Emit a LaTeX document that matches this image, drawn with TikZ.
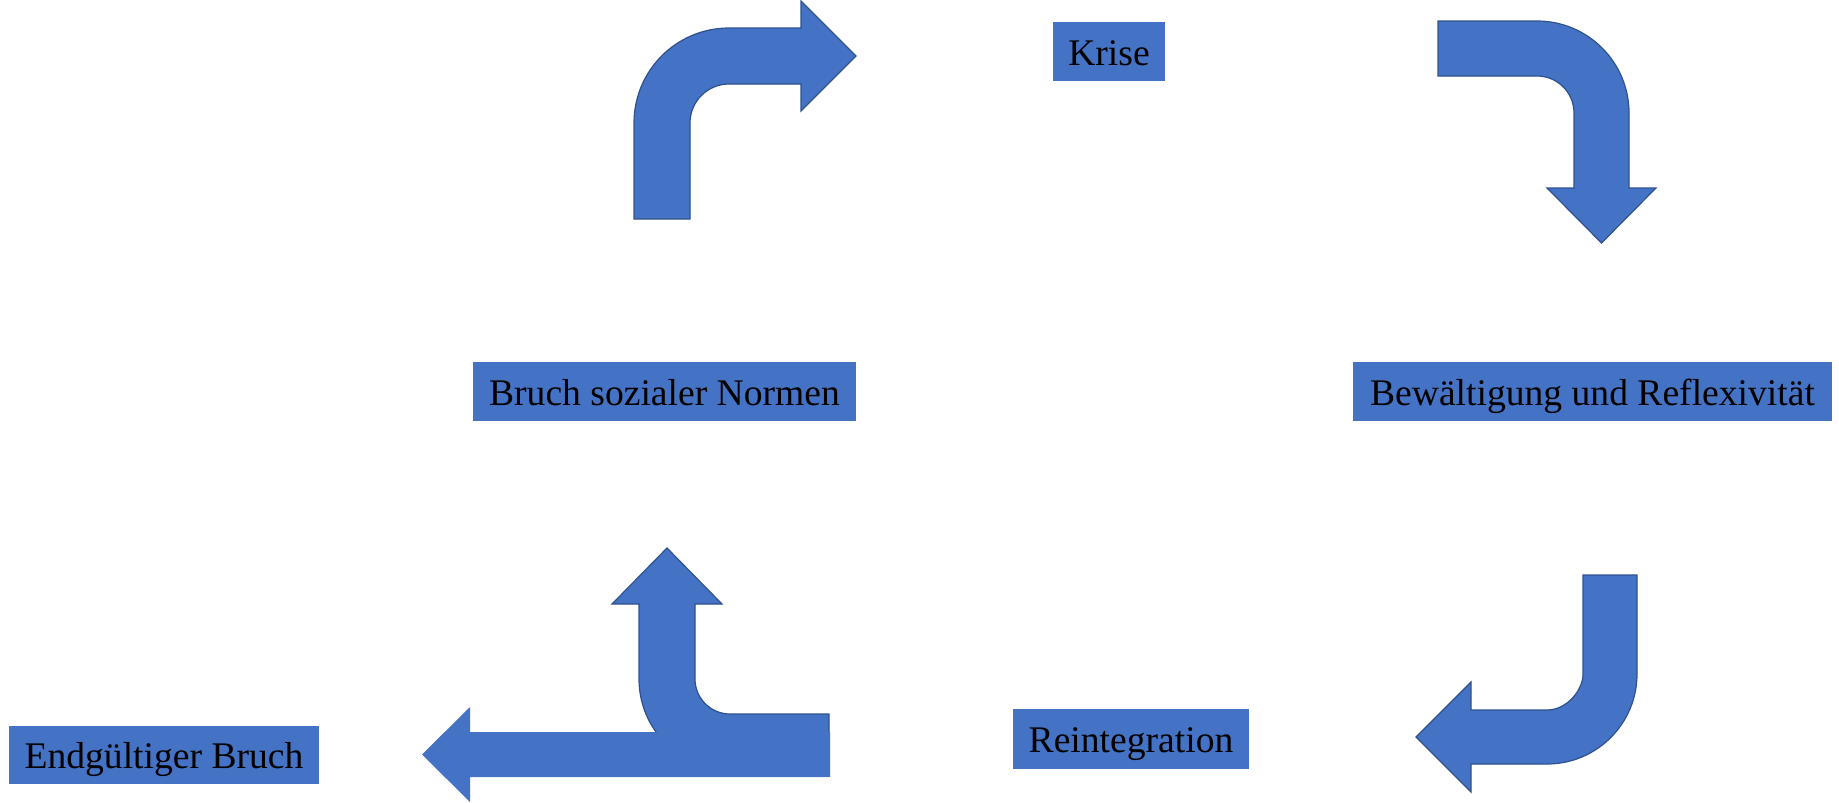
\documentclass[tikz,border=0pt]{standalone}
\usepackage{fontspec}
\setmainfont{Liberation Serif}
\definecolor{ofblue}{HTML}{4472C4}
\definecolor{ofedge}{HTML}{2F528F}
\tikzset{
  lbl/.style={fill=ofblue, inner sep=0pt, align=center,
    font=\fontsize{37.6}{45}\selectfont, text height=27pt, text depth=0pt},
  barrow/.style={fill=ofblue, draw=ofedge, line width=1.2pt, line join=miter},
  plainarrow/.style={fill=ofblue}
}
\begin{document}
\begin{tikzpicture}[x=1pt,y=-1pt]
\useasboundingbox (0,0) rectangle (1839,803);

% labels
\node[lbl, minimum width=112pt, minimum height=59pt] (krise) at (1109,51.5) {Krise};
\node[lbl, minimum width=383pt, minimum height=59pt] (bruch) at (664.5,391.5) {Bruch sozialer Normen};
\node[lbl, minimum width=479pt, minimum height=59pt] (bew) at (1592.5,391.5) {Bewältigung und Reflexivität};
\node[lbl, minimum width=310pt, minimum height=58pt] (end) at (164,755) {Endgültiger Bruch};
\node[lbl, minimum width=236pt, minimum height=60pt] (rein) at (1131,739) {Reintegration};

% arrow 1: up then right
\path[barrow] (634,219) -- (634,123) .. controls (634,70.5) and (676.5,28) .. (729,28)
  -- (801,28) -- (801,1) -- (856,56) -- (801,111) -- (801,84) -- (729,84)
  .. controls (707.5,84) and (690,101.5) .. (690,123) -- (690,219) -- cycle;

% arrow 2: right then down
\path[barrow] (1438,21) -- (1537,21) .. controls (1587.8,21) and (1629,62.2) .. (1629,113)
  -- (1629,188) -- (1656,188) -- (1601.5,243) -- (1547,188) -- (1574,188) -- (1574,113)
  .. controls (1574,92.6) and (1557.4,76) .. (1537,76) -- (1438,76) -- cycle;

% arrow 3: down then left
\path[barrow] (1583,575) -- (1637,575) -- (1637,674) .. controls (1637,723.7) and (1596.7,764) .. (1547,764)
  -- (1471,764) -- (1471,792) -- (1416,737) -- (1471,682) -- (1471,710) -- (1547,710)
  .. controls (1566.9,710) and (1583,690.1) .. (1583,674) -- cycle;

% arrow 4: bent up arrow
\path[barrow] (829,714) -- (730,714) .. controls (710.7,714) and (695,698.3) .. (695,679)
  -- (695,604) -- (722,604) -- (667,548) -- (612,604) -- (639,604) -- (639,679)
  .. controls (639,729.3) and (679.7,770) .. (730,770) -- (829,770) -- cycle;

% arrow 5: straight left arrow
\path[plainarrow] (830,732) -- (470,732) -- (470,707) -- (422,754.5) -- (470,802)
  -- (470,777) -- (830,777) -- cycle;
\end{tikzpicture}
\end{document}
